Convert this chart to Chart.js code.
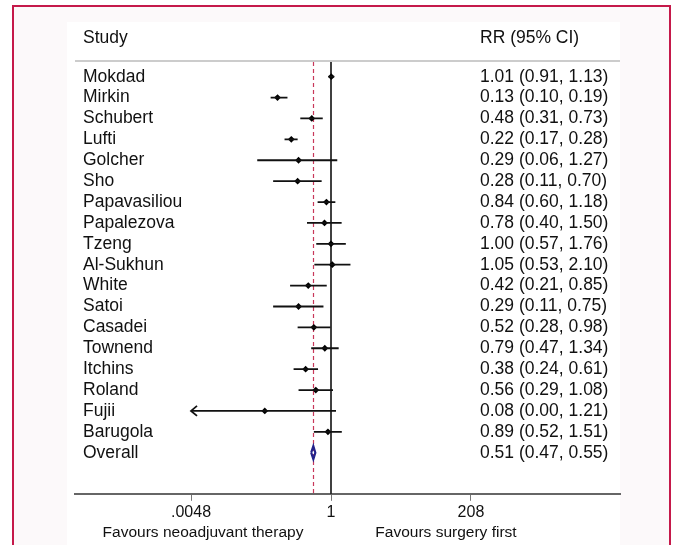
<!DOCTYPE html>
<html>
<head>
<meta charset="utf-8">
<script src="https://cdn.jsdelivr.net/npm/chart.js@4.4.1/dist/chart.umd.min.js"></script>
<style>
html, body { margin: 0; padding: 0; background: #fff; overflow: hidden; width: 677px; height: 545px; }
#frame { position: absolute; left: 12px; top: 5px; width: 655px; height: 600px; border: 2px solid #c5194a; background: #fcf9fa; }
#panel { position: absolute; left: 67px; top: 22px; width: 553px; height: 560px; background: #fff; }
#forest { position: absolute; left: 0; top: 0; }
</style>
</head>
<body>
<div id="frame"></div>
<div id="panel"></div>
<canvas id="forest" width="677" height="545"></canvas>
<script>
// Study level risk ratios with 95% CI
const studies = ['Mokdad', 'Mirkin', 'Schubert', 'Lufti', 'Golcher', 'Sho', 'Papavasiliou', 'Papalezova',
    'Tzeng', 'Al-Sukhun', 'White', 'Satoi', 'Casadei', 'Townend', 'Itchins', 'Roland', 'Fujii', 'Barugola'];
const rr     = [1.01, 0.13, 0.48, 0.22, 0.29, 0.28, 0.84, 0.78, 1.00, 1.05, 0.42, 0.29, 0.52, 0.79, 0.38, 0.56, 0.08, 0.89];
const ciLow  = [0.91, 0.10, 0.31, 0.17, 0.06, 0.11, 0.60, 0.40, 0.57, 0.53, 0.21, 0.11, 0.28, 0.47, 0.24, 0.29, 0.00, 0.52];
const ciHigh = [1.13, 0.19, 0.73, 0.28, 1.27, 0.70, 1.18, 1.50, 1.76, 2.10, 0.85, 0.75, 0.98, 1.34, 0.61, 1.08, 1.21, 1.51];

// pooled estimate
const overallLabel = 'Overall';
const overallRR = 0.51;
const overallLow = 0.47;
const overallHigh = 0.55;

// x axis ticks
const tickValues = [0.0048, 1, 208];
const tickLabels = ['.0048', '1', '208'];

const FONT = '"Liberation Sans", Arial, Helvetica, sans-serif';
const nRows = studies.length; // overall row index

// CI segments, broken with null y so each study is its own line
const ciPoints = [];
studies.forEach(function(s, i) {
    ciPoints.push({x: Math.max(ciLow[i], tickValues[0]), y: i});
    ciPoints.push({x: ciHigh[i], y: i});
    ciPoints.push({x: ciHigh[i], y: null});
});

const estPoints = studies.map(function(s, i) { return {x: rr[i], y: i}; });

// hollow diamond for the pooled estimate
const dh = 0.31;
const diamond = [
    {x: overallLow, y: nRows},
    {x: overallRR, y: nRows - dh},
    {x: overallHigh, y: nRows},
    {x: overallRR, y: nRows + dh},
    {x: overallLow, y: nRows}
];

const fmt = function(v) { return v.toFixed(2); };

const forestText = {
    id: 'forestText',
    beforeDatasetsDraw(chart) {
        const {ctx, chartArea, scales: {x}} = chart;
        ctx.save();
        // line of no effect
        ctx.strokeStyle = '#000';
        ctx.lineWidth = 1.5;
        ctx.beginPath();
        ctx.moveTo(x.getPixelForValue(1), chartArea.top);
        ctx.lineTo(x.getPixelForValue(1), chartArea.bottom);
        ctx.stroke();
        // overall estimate
        ctx.strokeStyle = '#c8385a';
        ctx.lineWidth = 1.2;
        ctx.setLineDash([4, 3]);
        ctx.beginPath();
        ctx.moveTo(Math.round(x.getPixelForValue(overallRR)) + 0.5, chartArea.top);
        ctx.lineTo(Math.round(x.getPixelForValue(overallRR)) + 0.5, chartArea.bottom);
        ctx.stroke();
        ctx.restore();
    },
    afterDraw(chart) {
        const {ctx, chartArea, scales: {x, y}} = chart;
        ctx.save();
        // header
        ctx.fillStyle = '#111';
        ctx.font = '17.5px ' + FONT;
        ctx.textBaseline = 'middle';
        ctx.textAlign = 'left';
        ctx.fillText('Study', 83, 38);
        ctx.fillText('RR (95% CI)', 480, 38);
        ctx.strokeStyle = '#cccccc';
        ctx.lineWidth = 2;
        ctx.beginPath();
        ctx.moveTo(chartArea.left, 61);
        ctx.lineTo(chartArea.right, 61);
        ctx.stroke();

        // row labels and RR text
        const names = studies.concat([overallLabel]);
        const est = rr.concat([overallRR]);
        const lo = ciLow.concat([overallLow]);
        const hi = ciHigh.concat([overallHigh]);
        names.forEach(function(name, i) {
            const py = y.getPixelForValue(i);
            ctx.fillText(name, 83, py);
            ctx.fillText(fmt(est[i]) + ' (' + fmt(lo[i]) + ', ' + fmt(hi[i]) + ')', 480, py);
        });

        // arrows for CIs running off the axis
        ctx.strokeStyle = '#111';
        ctx.lineWidth = 1.8;
        studies.forEach(function(s, i) {
            if (ciLow[i] < tickValues[0]) {
                const px = x.getPixelForValue(tickValues[0]);
                const py = y.getPixelForValue(i);
                ctx.beginPath();
                ctx.moveTo(px + 6, py - 5);
                ctx.lineTo(px, py);
                ctx.lineTo(px + 6, py + 5);
                ctx.stroke();
            }
        });

        // favours labels
        ctx.font = '15.5px ' + FONT;
        ctx.textAlign = 'center';
        ctx.fillText('Favours neoadjuvant therapy', 203, 533);
        ctx.fillText('Favours surgery first', 446, 533);
        ctx.restore();
    }
};

const ctx = document.getElementById('forest').getContext('2d');

const forestChart = new Chart(ctx, {
    type: 'scatter',
    data: {
        datasets: [
            {
                label: 'CI',
                data: ciPoints,
                showLine: true,
                spanGaps: false,
                borderColor: '#111',
                borderWidth: 1.8,
                pointRadius: 0
            },
            {
                label: 'RR',
                data: estPoints,
                pointStyle: 'rectRot',
                pointRadius: 3.4,
                backgroundColor: '#000',
                borderWidth: 0
            },
            {
                label: 'Overall',
                data: diamond,
                showLine: true,
                borderColor: '#23238a',
                borderWidth: 2.2,
                pointRadius: 0,
                tension: 0
            }
        ]
    },
    options: {
        responsive: false,
        animation: false,
        devicePixelRatio: 1,
        layout: {
            padding: {left: 75, right: 57, top: 62, bottom: 21}
        },
        plugins: {
            legend: {display: false},
            tooltip: {enabled: false}
        },
        scales: {
            x: {
                type: 'logarithmic',
                position: 'bottom',
                bounds: 'data',
                min: Math.pow(10, -4.2405),
                max: Math.pow(10, 4.787),
                afterBuildTicks: function(scale) {
                    scale.ticks = tickValues.map(function(v) { return {value: v}; });
                },
                ticks: {
                    callback: function(value, index) { return tickLabels[index]; },
                    font: {size: 16, family: FONT},
                    color: '#111',
                    padding: 2,
                    maxRotation: 0,
                    autoSkip: false
                },
                grid: {
                    drawOnChartArea: false,
                    drawTicks: true,
                    tickLength: 7,
                    color: '#777',
                    lineWidth: 1
                },
                border: {display: true, color: '#666', width: 2}
            },
            y: {
                type: 'linear',
                display: false,
                reverse: true,
                min: -0.703,
                max: 19.967
            }
        }
    },
    plugins: [forestText]
});
</script>
</body>
</html>
